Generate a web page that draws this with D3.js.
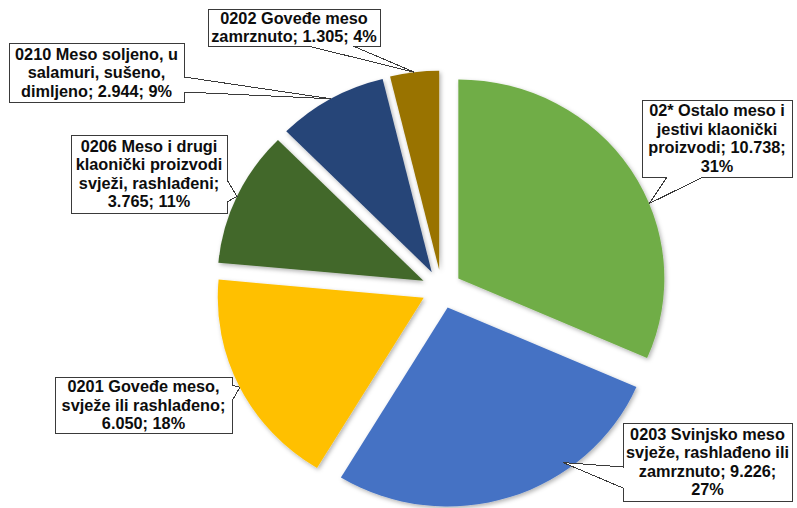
<!DOCTYPE html>
<html>
<head>
<meta charset="utf-8">
<script src="https://cdn.jsdelivr.net/npm/d3@7"></script>
<style>
  html, body { margin: 0; padding: 0; background: #fff; }
  svg { display: block; }
  text { font-family: "Liberation Sans", Arial, sans-serif; font-weight: bold; }
</style>
</head>
<body>
<script>
// ---- data ----
const categories = [
  "02* Ostalo meso i jestivi klaonički proizvodi",
  "0203 Svinjsko meso svježe, rashlađeno ili zamrznuto",
  "0201 Goveđe meso, svježe ili rashlađeno",
  "0206 Meso i drugi klaonički proizvodi svježi, rashlađeni",
  "0210 Meso soljeno, u salamuri, sušeno, dimljeno",
  "0202 Goveđe meso zamrznuto"
];
const values = [10738, 9226, 6050, 3765, 2944, 1305];
const percentLabels = [31, 27, 18, 11, 9, 4];
const colors = ["#70AD47", "#4472C4", "#FFC000", "#43682B", "#264478", "#997300"];

// ---- layout (label boxes / callouts) ----
const labelBoxes = [
  { x: 642, y: 100, w: 150, h: 77, side: "bottom", base: [667, 703], tipDeg: 67.9, tipR: 1.0, wrap: 146 },
  { x: 623, y: 423, w: 169, h: 78, side: "left",   base: [467, 488], tipDeg: 144.3, tipR: 0.96, wrap: 168 },
  { x: 55,  y: 377, w: 177, h: 56, side: "right",  base: [385, 401], tipDeg: null, tipR: 1.0, wrap: 172 },
  { x: 71,  y: 135, w: 156, h: 78, side: "right",  base: [180, 202], tipDeg: null, tipR: 1.0, wrap: 152 },
  { x: 9,   y: 43,  w: 175, h: 59, side: "right",  base: [77, 92],   tipDeg: null, tipR: 1.0, wrap: 170 },
  { x: 208, y: 9,   w: 172, h: 37, side: "bottom", base: [308, 353], tipDeg: null, tipR: 1.0, wrap: 170 }
];

const W = 797, H = 508;
const cx = 441.6, cy = 289, R = 206, ky = 0.966, explode = 20;
const fontSize = 16.3, lineH = 18.5;

const svg = d3.select("body").append("svg").attr("width", W).attr("height", H);

const defs = svg.append("defs");
const f = defs.append("filter").attr("id", "shadow")
  .attr("x", "-20%").attr("y", "-20%").attr("width", "140%").attr("height", "140%");
f.append("feDropShadow").attr("dx", 1.5).attr("dy", 2).attr("stdDeviation", 2)
  .attr("flood-color", "#000").attr("flood-opacity", 0.3);

const pie = d3.pie().sort(null).value(d => d).startAngle(0).endAngle(2 * Math.PI);
const arcs = pie(values);
const arc = d3.arc().innerRadius(0).outerRadius(R);

const g = svg.append("g").attr("transform", `translate(${cx},${cy}) scale(1,${ky})`);

g.selectAll("path.slice").data(arcs).enter().append("path")
  .attr("class", "slice")
  .attr("d", arc)
  .attr("fill", (d, i) => colors[i])
  .attr("filter", "url(#shadow)")
  .attr("transform", d => {
    const m = (d.startAngle + d.endAngle) / 2;
    return `translate(${explode * Math.sin(m)},${-explode * Math.cos(m)})`;
  });

// ---- labels ----
const loc = d3.formatLocale({ decimal: ",", thousands: ".", grouping: [3], currency: ["", ""] });
const fmt = loc.format(",d");

const canvas = document.createElement("canvas");
const ctx = canvas.getContext("2d");
ctx.font = `bold ${fontSize}px "Liberation Sans", Arial, sans-serif`;

function wrapText(str, maxW) {
  const words = str.split(" ");
  const lines = [];
  let cur = "";
  words.forEach(w => {
    const test = cur ? cur + " " + w : w;
    if (ctx.measureText(test).width <= maxW || !cur) cur = test;
    else { lines.push(cur); cur = w; }
  });
  if (cur) lines.push(cur);
  return lines;
}

function tipPoint(d, lb) {
  const m = (d.startAngle + d.endAngle) / 2;
  const a = lb.tipDeg == null ? m : lb.tipDeg * Math.PI / 180;
  const ox = explode * Math.sin(m), oy = -explode * Math.cos(m);
  const px = ox + R * lb.tipR * Math.sin(a);
  const py = oy - R * lb.tipR * Math.cos(a);
  return [cx + px, cy + py * ky];
}

function calloutPath(b, tip) {
  const x0 = b.x, y0 = b.y, x1 = b.x + b.w, y1 = b.y + b.h;
  const [t1, t2] = b.base;
  const p = d3.path();
  p.moveTo(x0, y0);
  if (b.side === "top") { p.lineTo(t1, y0); p.lineTo(tip[0], tip[1]); p.lineTo(t2, y0); }
  p.lineTo(x1, y0);
  if (b.side === "right") { p.lineTo(x1, t1); p.lineTo(tip[0], tip[1]); p.lineTo(x1, t2); }
  p.lineTo(x1, y1);
  if (b.side === "bottom") { p.lineTo(t2, y1); p.lineTo(tip[0], tip[1]); p.lineTo(t1, y1); }
  p.lineTo(x0, y1);
  if (b.side === "left") { p.lineTo(x0, t2); p.lineTo(tip[0], tip[1]); p.lineTo(x0, t1); }
  p.closePath();
  return p.toString();
}

const labels = svg.append("g");
arcs.forEach((d, i) => {
  const b = labelBoxes[i];
  const tip = tipPoint(d, b);
  labels.append("path")
    .attr("d", calloutPath(b, tip))
    .attr("fill", "#fff")
    .attr("stroke", "#3a3a3a")
    .attr("stroke-width", 1)
    .attr("shape-rendering", "crispEdges");
  const str = `${categories[i]}; ${fmt(values[i])}; ${percentLabels[i]}%`;
  const lines = wrapText(str, b.wrap);
  const midY = b.y + b.h / 2;
  const startY = midY - (lines.length - 1) * lineH / 2;
  const t = labels.append("text")
    .attr("text-anchor", "middle")
    .attr("font-size", fontSize)
    .attr("fill", "#0d0d0d");
  lines.forEach((ln, k) => {
    t.append("tspan")
      .attr("x", b.x + b.w / 2)
      .attr("y", startY + k * lineH)
      .attr("dy", "0.35em")
      .text(ln);
  });
});
</script>
</body>
</html>
